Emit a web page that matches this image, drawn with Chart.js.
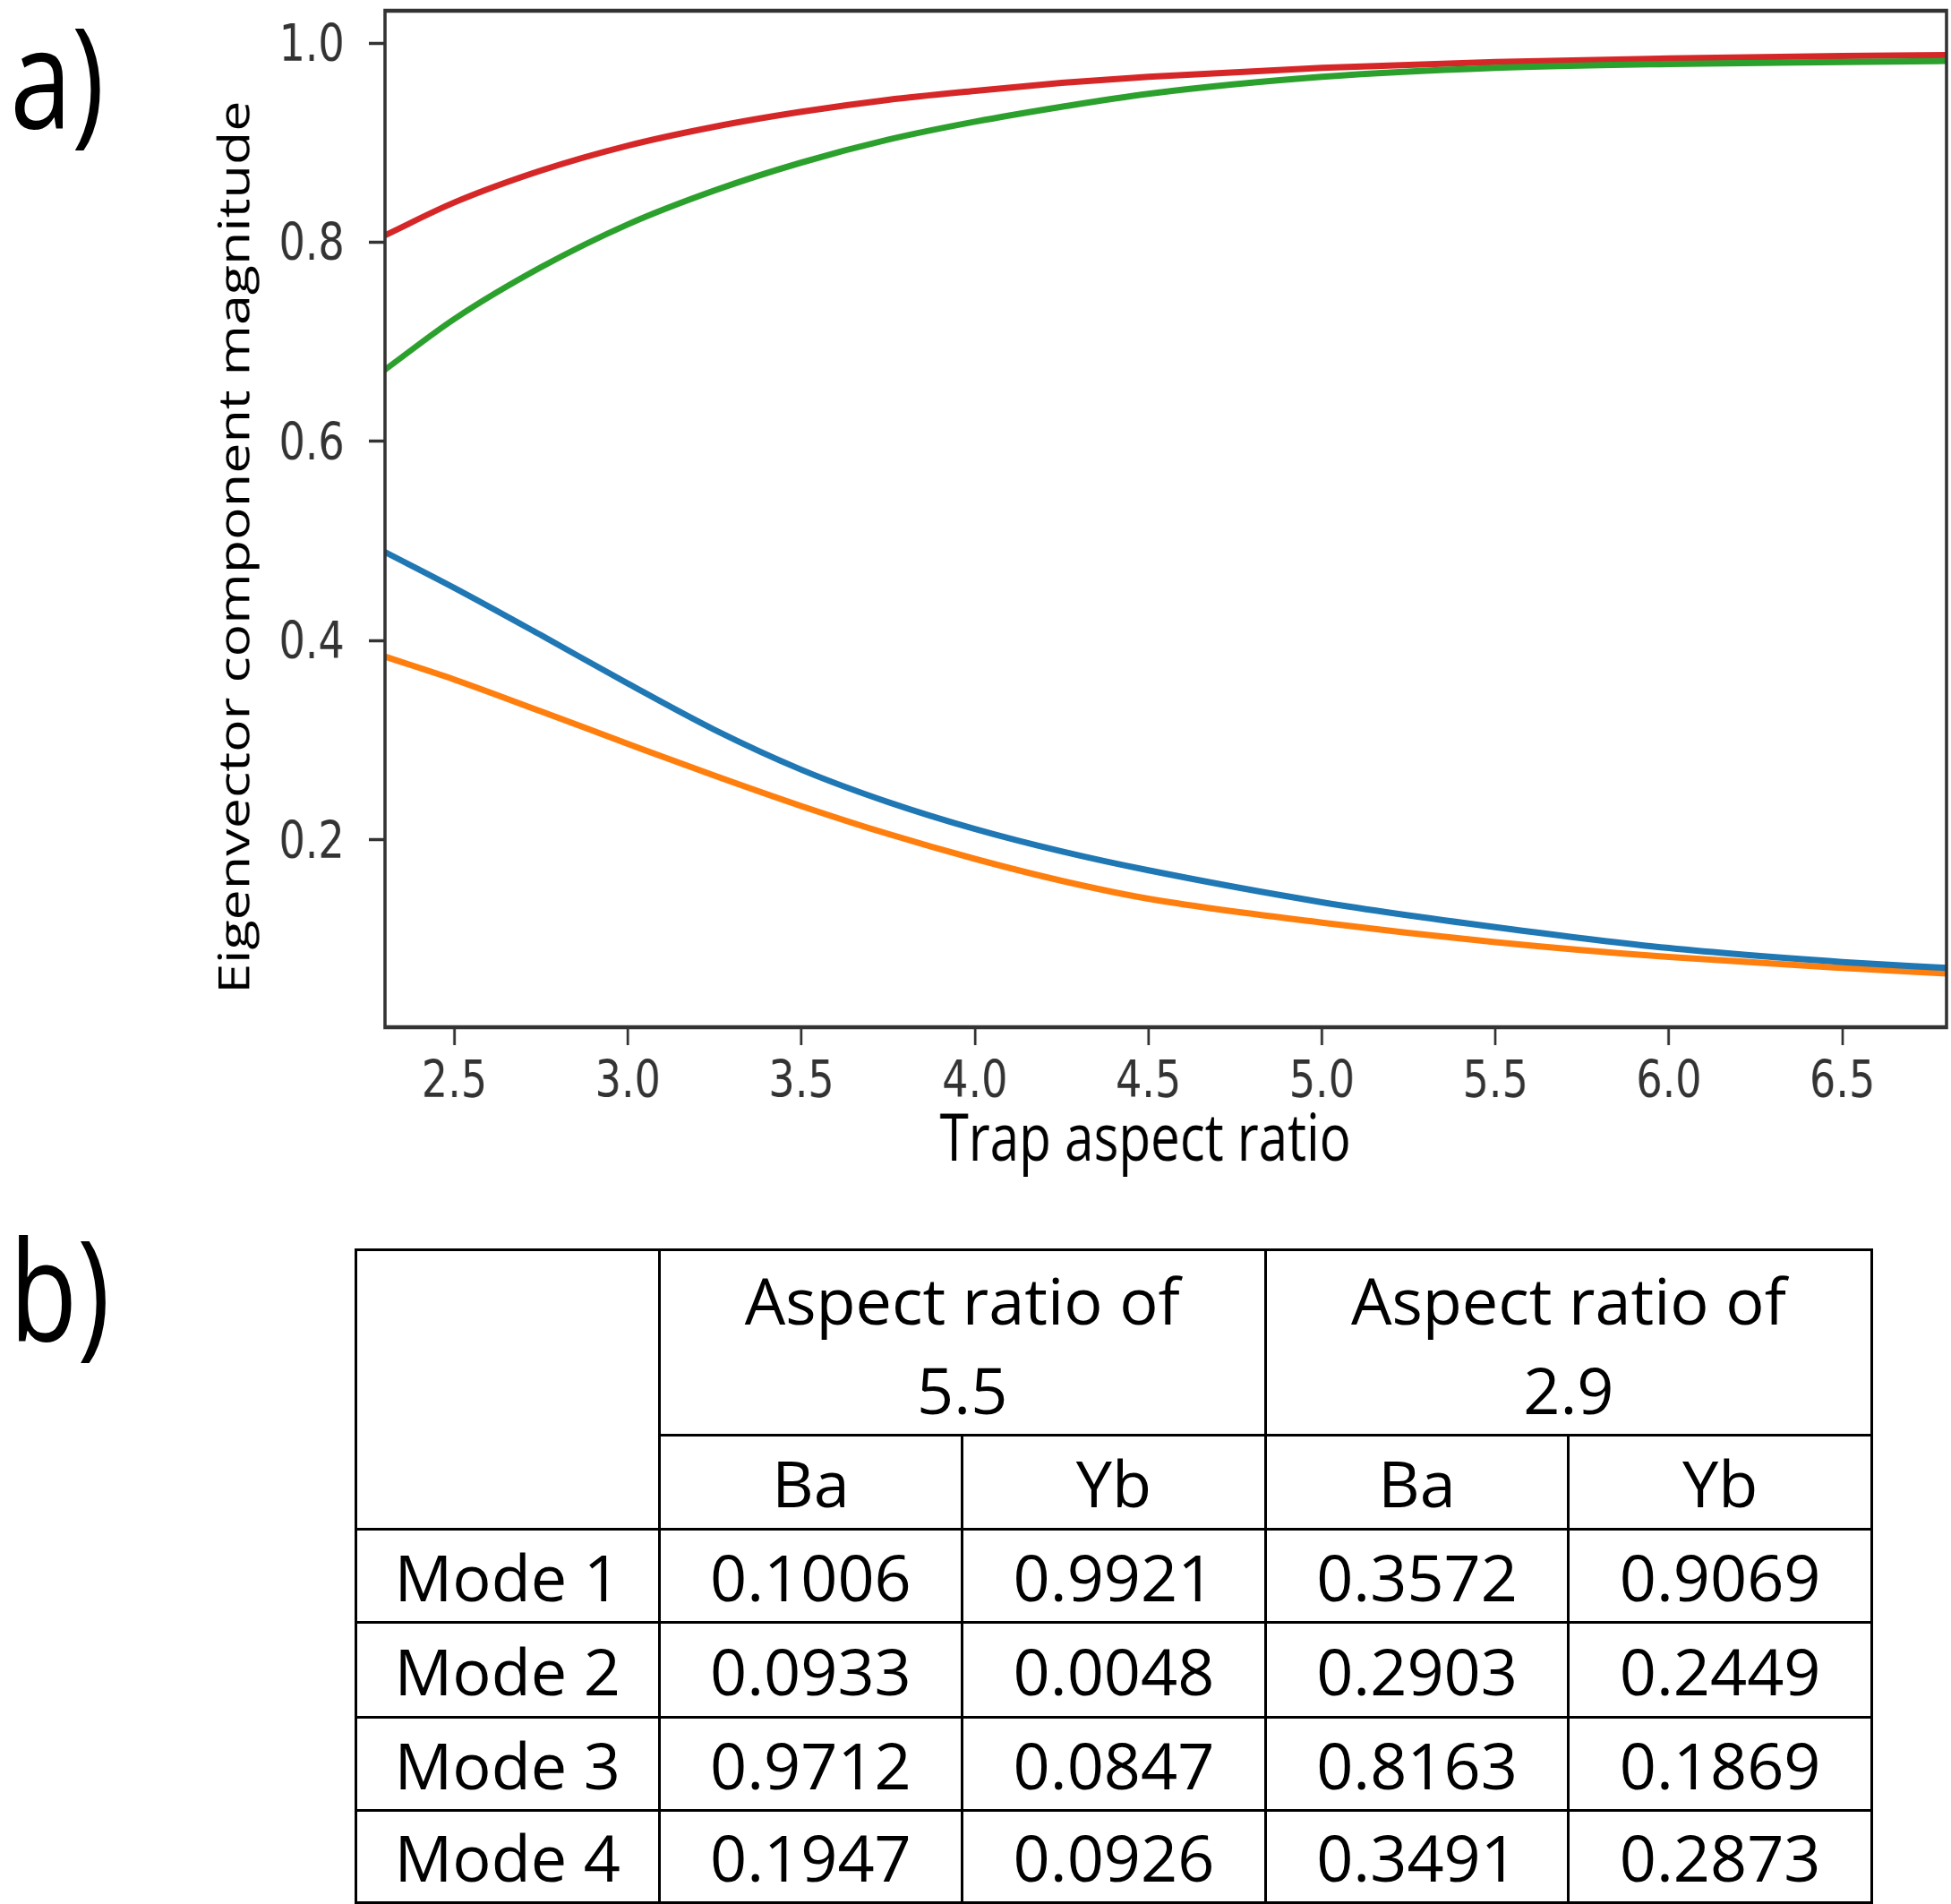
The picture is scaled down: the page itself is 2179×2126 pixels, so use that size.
<!DOCTYPE html>
<html>
<head>
<meta charset="utf-8">
<script src="https://cdn.jsdelivr.net/npm/chart.js@4.4.1/dist/chart.umd.min.js"></script>
<style>
html,body{margin:0;padding:0;background:#fff;overflow:hidden;width:2179px;height:2126px;}
#top{position:absolute;left:0;top:0;width:2724px;height:1330px;transform:scaleX(0.8);transform-origin:0 0;}
#chartBox{position:absolute;left:0;top:0;width:2724px;height:1330px;}
.panel{position:absolute;font-family:'Open Sans';font-size:155px;line-height:155px;color:#000;white-space:nowrap;}
#labA{left:14px;top:5px;}
#bwrap{position:absolute;left:0;top:1359px;width:300px;height:180px;transform:scaleX(0.8);transform-origin:0 0;}
#labB{left:13px;top:0px;}
#tbl{position:absolute;left:396px;top:1394px;width:1693px;border-collapse:collapse;table-layout:fixed;font-family:'Open Sans';font-size:72px;color:#000;}
#tbl td{border:3.5px solid #000;text-align:center;vertical-align:middle;padding:0;white-space:nowrap;}
#tbl td.hdr{line-height:100px;padding-top:4px;}
</style>
</head>
<body>
<div id="top">
  <div id="chartBox"><canvas id="c"></canvas></div>
  <div class="panel" id="labA">a)</div>
</div>
<div id="bwrap"><div class="panel" id="labB">b)</div></div>
<table id="tbl">
  <colgroup><col style="width:338.6px"><col style="width:338.6px"><col style="width:338.6px"><col style="width:338.6px"><col style="width:338.6px"></colgroup>
  <tbody id="tbody"></tbody>
</table>
<script>
// ---------- chart data ----------
const aspectRatio  = [2.3, 2.5, 2.75, 3.0, 3.25, 3.5, 3.75, 4.0, 4.25, 4.5, 5.0, 5.5, 6.0, 6.5, 6.8];
const redSeries    = [0.807, 0.840, 0.872, 0.897, 0.916, 0.931, 0.943, 0.952, 0.960, 0.966, 0.975, 0.981, 0.9845, 0.987, 0.988];
const greenSeries  = [0.672, 0.723, 0.775, 0.818, 0.852, 0.880, 0.903, 0.921, 0.936, 0.949, 0.966, 0.975, 0.979, 0.981, 0.982];
const blueSeries   = [0.489, 0.453, 0.4055, 0.357, 0.3105, 0.2705, 0.238, 0.211, 0.1885, 0.1695, 0.1375, 0.1125, 0.0915, 0.0775, 0.0715];
const orangeSeries = [0.384, 0.361, 0.329, 0.2965, 0.2645, 0.234, 0.206, 0.181, 0.159, 0.141, 0.117, 0.0975, 0.0825, 0.0715, 0.066];
const xTickValues  = [2.5, 3.0, 3.5, 4.0, 4.5, 5.0, 5.5, 6.0, 6.5];
const yTickValues  = [0.2, 0.4, 0.6, 0.8, 1.0];
const xTitle = 'Trap aspect ratio';
const yTitle = 'Eigenvector component magnitude';

// ---------- table data ----------
const tableGroups = ['Aspect ratio of\n5.5', 'Aspect ratio of\n2.9'];
const tableIons   = ['Ba', 'Yb', 'Ba', 'Yb'];
const tableModes  = ['Mode 1', 'Mode 2', 'Mode 3', 'Mode 4'];
const ratio55Ba   = ['0.1006', '0.0933', '0.9712', '0.1947'];
const ratio55Yb   = ['0.9921', '0.0048', '0.0847', '0.0926'];
const ratio29Ba   = ['0.3572', '0.2903', '0.8163', '0.3491'];
const ratio29Yb   = ['0.9069', '0.2449', '0.1869', '0.2873'];

// build table
(function(){
  const tb = document.getElementById('tbody');
  const rowH = [199, 105, 104, 106, 104, 103];
  let tr = document.createElement('tr'); tr.style.height = rowH[0] + 'px';
  let td = document.createElement('td'); td.rowSpan = 2; tr.appendChild(td);
  tableGroups.forEach(g => {
    const c = document.createElement('td'); c.colSpan = 2; c.className = 'hdr';
    g.split('\n').forEach((line, i) => { if (i) c.appendChild(document.createElement('br')); c.appendChild(document.createTextNode(line)); });
    tr.appendChild(c);
  });
  tb.appendChild(tr);
  tr = document.createElement('tr'); tr.style.height = rowH[1] + 'px';
  tableIons.forEach(t => { const c = document.createElement('td'); c.textContent = t; tr.appendChild(c); });
  tb.appendChild(tr);
  tableModes.forEach((m, i) => {
    const r = document.createElement('tr'); r.style.height = rowH[2 + i] + 'px';
    [m, ratio55Ba[i], ratio55Yb[i], ratio29Ba[i], ratio29Yb[i]].forEach(t => {
      const c = document.createElement('td'); c.textContent = t; r.appendChild(c);
    });
    tb.appendChild(r);
  });
})();

const toPoints = arr => aspectRatio.map((x, i) => ({x: x, y: arr[i]}));

const frame = {
  id: 'frame',
  afterDraw(chart) {
    const a = chart.chartArea, ctx = chart.ctx;
    ctx.save();
    ctx.strokeStyle = '#333';
    ctx.lineWidth = 4.5;
    ctx.strokeRect(a.left, a.top, a.right - a.left, a.bottom - a.top);
    ctx.restore();
  }
};

// non-breaking spaces pad the titles so they sit off-centre as in the reference
const pad = n => '\u00a0'.repeat(n);

new Chart(document.getElementById('c'), {
  type: 'line',
  data: {
    datasets: [
      {label: 'blue',   data: toPoints(blueSeries),   borderColor: '#1f77b4'},
      {label: 'orange', data: toPoints(orangeSeries), borderColor: '#ff7f0e'},
      {label: 'green',  data: toPoints(greenSeries),  borderColor: '#2ca02c'},
      {label: 'red',    data: toPoints(redSeries),    borderColor: '#d62728'}
    ]
  },
  options: {
    responsive: true,
    maintainAspectRatio: false,
    animation: false,
    devicePixelRatio: 1,
    layout: {padding: {left: 0, right: 6.5, top: 12, bottom: 0}},
    plugins: {legend: {display: false}, tooltip: {enabled: false}},
    elements: {
      point: {radius: 0},
      line: {borderWidth: 7, cubicInterpolationMode: 'monotone', fill: false}
    },
    scales: {
      x: {
        type: 'linear', min: 2.3, max: 6.8,
        afterBuildTicks: s => { s.ticks = xTickValues.map(v => ({value: v})); },
        afterFit: s => { s.height = 183; s.paddingLeft = 0; s.paddingRight = 0; },
        ticks: {font: {family: 'DejaVu Sans', size: 57.6}, color: '#333', padding: 8,
                maxRotation: 0, autoSkip: false, callback: v => Number(v).toFixed(1)},
        grid: {display: true, drawOnChartArea: false, drawTicks: true, tickLength: 20, tickWidth: 3.5, tickColor: '#333'},
        border: {display: false},
        title: {display: true, text: xTitle + pad(3), color: '#000', font: {family: 'Open Sans', size: 73},
                padding: {top: 0, bottom: 11}}
      },
      y: {
        type: 'linear', min: 0.012, max: 1.0324,
        afterBuildTicks: s => { s.ticks = yTickValues.map(v => ({value: v})); },
        afterFit: s => { s.width = 537.5; s.paddingTop = 0; s.paddingBottom = 0; },
        ticks: {font: {family: 'DejaVu Sans', size: 57.6}, color: '#333', padding: 34, labelOffset: 5,
                autoSkip: false, callback: v => Number(v).toFixed(1)},
        grid: {display: true, drawOnChartArea: false, drawTicks: true, tickLength: 22.5, tickWidth: 3.5, tickColor: '#333'},
        border: {display: false},
        title: {display: true, text: yTitle + pad(4), color: '#000', font: {family: 'Open Sans', size: 61},
                padding: {top: 294, bottom: 0}}
      }
    }
  },
  plugins: [frame]
});
</script>
</body>
</html>
